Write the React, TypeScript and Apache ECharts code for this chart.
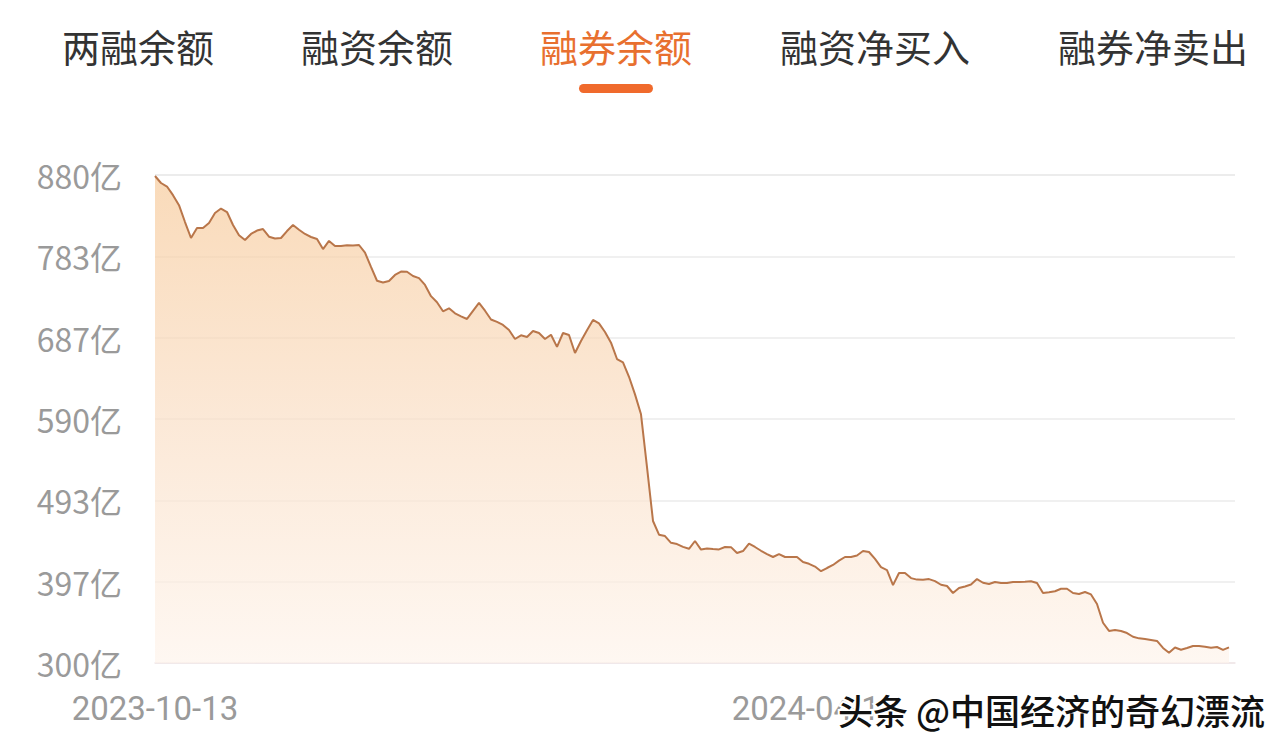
import React, { useEffect, useRef } from "react";
import * as echarts from "echarts";

const tabs = ["两融余额", "融资余额", "融券余额", "融资净买入", "融券净卖出"];
const tabCenters = [138, 377, 616, 875, 1153];
const activeTab = 2;

// 融券余额 (亿元), one value per trading day
const values: (number | null)[] = [
  878.8, 870.5, 866.3, 856.0, 844.1, 824.1, 805.1, 817.0, 817.0, 823.0,
  834.8, 840.1, 836.0, 820.6, 808.3, 802.7, 809.9, 814.0, 815.8, 806.7,
  804.5, 805.1, 813.4, 820.6, 815.0, 809.9, 806.3, 804.0, 792.0, 801.6,
  795.6, 795.6, 796.4, 796.3, 796.8, 787.7, 770.7, 754.3, 752.2, 754.0,
  761.2, 765.2, 765.0, 760.0, 757.5, 749.3, 736.0, 728.8, 718.0, 721.6,
  715.6, 711.9, 708.9, 718.4, 727.9, 718.7, 708.3, 705.5, 701.8, 695.8,
  685.1, 689.5, 687.5, 694.6, 692.2, 685.1, 690.2, 675.7, 692.2, 689.8,
  668.4, 682.7, 695.6, 707.7, 703.6, 693.4, 680.7, 661.3, 657.3, 640.2,
  619.3, 595.6, 532.9, 468.8, 452.5, 450.9, 442.8, 441.4, 438.0, 435.7,
  445.0, 434.8, 436.1, 435.4, 435.0, 437.9, 437.7, 430.7, 433.1, 441.9,
  437.9, 433.4, 429.5, 426.0, 429.5, 426.0, 426.0, 426.0, 420.0, 417.9,
  414.6, 409.1, 412.9, 416.5, 421.6, 426.0, 426.0, 427.8, 433.1, 431.9,
  423.7, 414.0, 410.5, 392.6, 407.0, 407.0, 400.9, 399.1, 399.0, 399.7,
  397.3, 393.0, 391.5, 383.2, 389.1, 391.0, 393.3, 399.8, 395.4, 393.9,
  396.3, 395.2, 395.1, 396.3, 396.3, 396.6, 397.1, 395.1, 383.2, 384.2,
  385.3, 388.2, 388.2, 383.2, 382.0, 384.4, 381.5, 370.2, 347.8, 338.1,
  339.2, 338.1, 335.6, 331.2, 329.3, 328.4, 327.4, 326.2, 317.9, 312.1,
  318.4, 315.8, 317.8, 320.2, 320.2, 319.4, 318.1, 319.0, 315.6, 318.5,
  null,
];

const categories = values.map((_, i) => String(i));
const xTickIndex = [0, 110];
const xTickLabels = ["2023-10-13", "2024-04-12"];

const yMin = 300;
const yMax = 880;
const ySplits = 6;

const watermark = "头条 @中国经济的奇幻漂流";

export default function App() {
  const ref = useRef<HTMLDivElement>(null);

  useEffect(() => {
    if (!ref.current) return;
    const chart = echarts.init(ref.current, undefined, { renderer: "svg" });

    const tabGraphics = tabs.map((t, i) => ({
      type: "text",
      x: tabCenters[i],
      y: 45,
      style: {
        text: t,
        fill: i === activeTab ? "#E8702F" : "#333333",
        font: '38px "Noto Sans CJK SC", sans-serif',
        textAlign: "center",
        textVerticalAlign: "middle",
      },
    }));

    chart.setOption({
      animation: false,
      backgroundColor: "#ffffff",
      grid: { left: 155, right: 45, top: 175, bottom: 85 },
      xAxis: {
        type: "category",
        boundaryGap: false,
        data: categories,
        axisLine: { show: true, lineStyle: { color: "#F1E6E8", width: 1.5 } },
        axisTick: { show: false },
        axisLabel: {
          interval: (idx: number) => xTickIndex.indexOf(idx) >= 0,
          formatter: (_v: string, idx: number) => {
            const k = xTickIndex.indexOf(idx);
            return k >= 0 ? xTickLabels[k] : "";
          },
          color: "#9A9A9A",
          fontSize: 33,
          fontFamily: "Roboto, sans-serif",
          margin: 29,
        },
        splitLine: { show: false },
      },
      yAxis: {
        type: "value",
        min: yMin,
        max: yMax,
        interval: (yMax - yMin) / ySplits,
        axisLine: { show: false },
        axisTick: { show: false },
        axisLabel: {
          formatter: (v: number) => Math.round(v) + "亿",
          color: "#9A9A9A",
          fontSize: 32,
          fontFamily: '"Liberation Sans Narrow", "Noto Sans CJK SC", sans-serif',
          margin: 33,
        },
        splitLine: { lineStyle: { color: "#EBEBEB", width: 1.5 } },
      },
      series: [
        {
          type: "line",
          data: values,
          showSymbol: false,
          symbol: "none",
          connectNulls: false,
          lineStyle: { color: "#B9764A", width: 2 },
          areaStyle: {
            color: new echarts.graphic.LinearGradient(0, 0, 0, 1, [
              { offset: 0, color: "#F7CB9C" },
              { offset: 0.5, color: "#FADFC6" },
              { offset: 1, color: "#FEF4EC" },
            ]),
          },
        },
      ],
      graphic: [
        ...tabGraphics,
        {
          type: "rect",
          shape: { x: 579, y: 84, width: 74, height: 9, r: 4.5 },
          style: { fill: "#F06A2C" },
        },
        {
          type: "text",
          x: 838,
          y: 709,
          z: 100,
          style: {
            text: watermark,
            fill: "#111111",
            stroke: "#ffffff",
            lineWidth: 4,
            strokeFirst: true,
            font: '500 35px "Noto Sans CJK SC", sans-serif',
            textAlign: "left",
            textVerticalAlign: "middle",
          },
        },
      ],
    });

    return () => chart.dispose();
  }, []);

  return (
    <div
      ref={ref}
      style={{ position: "fixed", left: 0, top: 0, width: 1280, height: 748 }}
    />
  );
}
